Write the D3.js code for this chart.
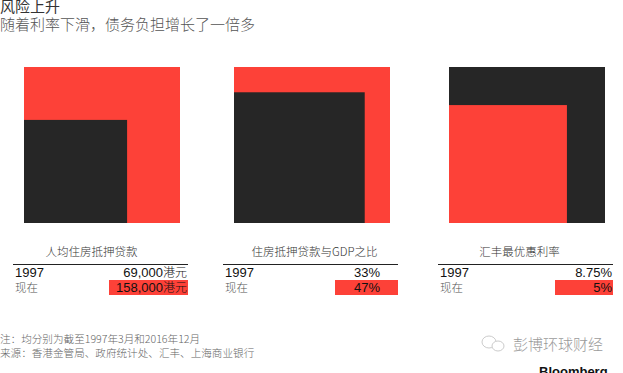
<!DOCTYPE html>
<html>
<head>
<meta charset="utf-8">
<script src="https://cdn.jsdelivr.net/npm/d3@7"></script>
<style>
  body { margin: 0; background: #fff; }
  svg { display: block; }
  .cjk { font-family: "Noto Sans CJK SC", sans-serif; }
  .num { font-family: "Liberation Sans", Arial, sans-serif; }
</style>
</head>
<body>
<svg id="chart" width="623" height="373"></svg>
<script>
// data
const panelTitles = ['人均住房抵押贷款', '住房抵押贷款与GDP之比', '汇丰最优惠利率'];
const years = ['1997', '现在'];
const values1997 = [69000, 33, 8.75];
const valuesNow = [158000, 47, 5];
const labels1997 = ['69,000港元', '33%', '8.75%'];
const labelsNow = ['158,000港元', '47%', '5%'];

const RED = '#fd4138', DARK = '#262626';

const svg = d3.select('#chart');

// layout
const tableLeft = [13, 223, 438];
const tableWidth = 175;
const side = 156;
const squareBottom = 223;
const barWidth = [79, 63, 58];
const valueInset = [1, 18, 1];
const titleShift = [-9, 4, -6];

// headline
svg.append('text').attr('class', 'cjk')
  .attr('x', 0).attr('y', 12)
  .attr('font-size', 15).attr('fill', '#333')
  .text('风险上升');
svg.append('text').attr('class', 'cjk')
  .attr('x', 0).attr('y', 30)
  .attr('font-size', 15).attr('font-weight', 300).attr('fill', '#555')
  .text('随着利率下滑，债务负担增长了一倍多');

panelTitles.forEach((title, i) => {
  const g = svg.append('g').attr('transform', `translate(${tableLeft[i]},0)`);
  const vals = [values1997[i], valuesNow[i]];
  const size = d3.scaleSqrt().domain([0, d3.max(vals)]).range([0, side]);

  // bigger square first so the smaller one sits on top
  const sq = vals.map((v, k) => ({ v, k }))
    .sort((a, b) => b.v - a.v);

  g.append('g').attr('transform', 'translate(11,0)')
    .selectAll('rect')
    .data(sq)
    .enter()
    .append('rect')
    .attr('x', 0)
    .attr('y', d => squareBottom - size(d.v))
    .attr('width', d => size(d.v))
    .attr('height', d => size(d.v))
    .attr('fill', d => d.k === 0 ? DARK : RED);

  // title
  g.append('text').attr('class', 'cjk')
    .attr('x', tableWidth / 2 + titleShift[i]).attr('y', 256)
    .attr('text-anchor', 'middle')
    .attr('font-size', 11.5).attr('font-weight', 300).attr('fill', '#333')
    .text(title);

  g.append('line')
    .attr('x1', 0).attr('x2', tableWidth)
    .attr('y1', 264.5).attr('y2', 264.5)
    .attr('stroke', '#222').attr('stroke-width', 1);

  // highlight for current value
  g.append('rect')
    .attr('x', tableWidth - barWidth[i]).attr('y', 280)
    .attr('width', barWidth[i]).attr('height', 15)
    .attr('fill', RED);

  g.append('text').attr('class', 'num')
    .attr('x', 2).attr('y', 277)
    .attr('font-size', 13).attr('fill', '#111')
    .text(years[0]);
  g.append('text').attr('class', 'cjk')
    .attr('x', 2).attr('y', 292)
    .attr('font-size', 11.5).attr('font-weight', 300).attr('fill', '#555')
    .text(years[1]);

  [labels1997[i], labelsNow[i]].forEach((lab, k) => {
    const t = g.append('text')
      .attr('x', tableWidth - valueInset[i])
      .attr('y', k === 0 ? 277 : 292)
      .attr('text-anchor', 'end')
      .attr('font-size', 13)
      .attr('fill', '#111');
    const m = lab.match(/^([\d,.%]+)(.*)$/);
    t.append('tspan').attr('class', 'num').text(m[1]);
    if (m[2]) t.append('tspan').attr('class', 'cjk').attr('font-weight', 300).attr('font-size', 12).text(m[2]);
  });
});

// notes
svg.append('text').attr('class', 'cjk')
  .attr('x', 0).attr('y', 343)
  .attr('font-size', 10.6).attr('font-weight', 300).attr('fill', '#666')
  .text('注：均分别为截至1997年3月和2016年12月');
svg.append('text').attr('class', 'cjk')
  .attr('x', 0).attr('y', 357)
  .attr('font-size', 10.6).attr('font-weight', 300).attr('fill', '#666')
  .text('来源：香港金管局、政府统计处、汇丰、上海商业银行');

// watermark
const wm = svg.append('g').attr('opacity', 0.75);
wm.append('ellipse').attr('cx', 489).attr('cy', 342).attr('rx', 7).attr('ry', 6)
  .attr('fill', 'none').attr('stroke', '#bbb').attr('stroke-width', 1);
wm.append('ellipse').attr('cx', 498).attr('cy', 346).attr('rx', 6).attr('ry', 5)
  .attr('fill', '#fff').attr('stroke', '#bbb').attr('stroke-width', 1);
wm.append('text').attr('class', 'cjk')
  .attr('x', 513).attr('y', 350)
  .attr('font-size', 15).attr('font-weight', 300).attr('fill', '#777')
  .text('彭博环球财经');
svg.append('text').attr('class', 'num')
  .attr('x', 539).attr('y', 376)
  .attr('font-size', 13).attr('font-weight', 'bold').attr('fill', '#111')
  .text('Bloomberg');
</script>
</body>
</html>
